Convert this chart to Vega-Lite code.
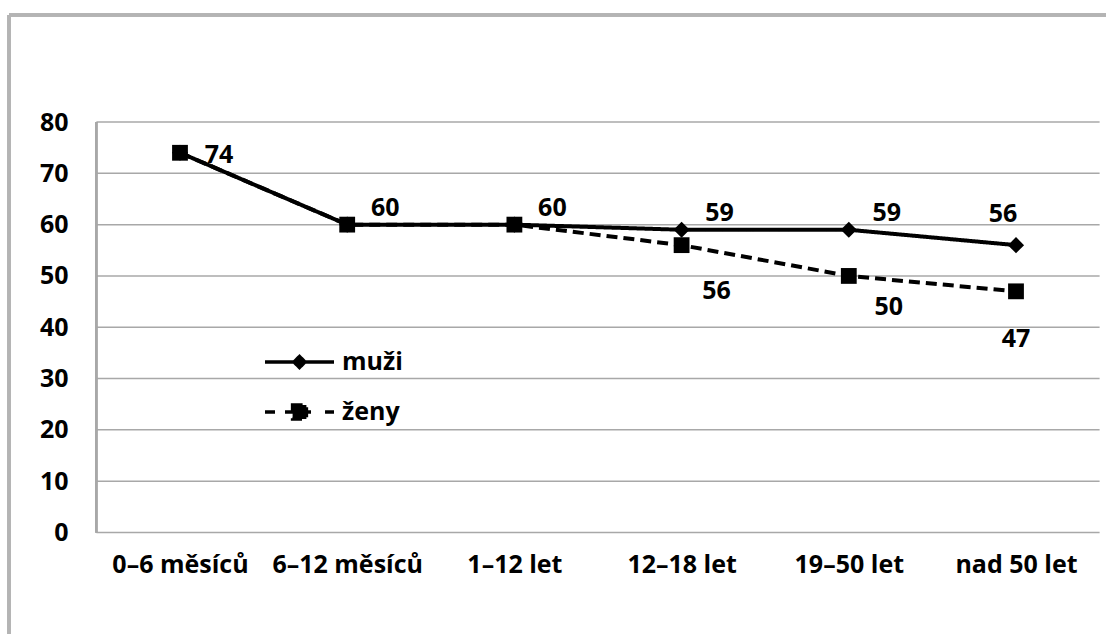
{
  "$schema": "https://vega.github.io/schema/vega-lite/v6.json",
  "width": 1097,
  "height": 619,
  "autosize": {"type": "none"},
  "padding": {"left": 9, "top": 15, "right": 0, "bottom": 0},
  "background": "white",
  "config": {"view": {"stroke": null}, "font": "Open Sans"},
  "datasets": {
    "values": [
      {"vek": "0–6 měsíců", "i": 0, "pohlavi": "muži", "hodnota": 74},
      {"vek": "6–12 měsíců", "i": 1, "pohlavi": "muži", "hodnota": 60},
      {"vek": "1–12 let", "i": 2, "pohlavi": "muži", "hodnota": 60},
      {"vek": "12–18 let", "i": 3, "pohlavi": "muži", "hodnota": 59},
      {"vek": "19–50 let", "i": 4, "pohlavi": "muži", "hodnota": 59},
      {"vek": "nad 50 let", "i": 5, "pohlavi": "muži", "hodnota": 56},
      {"vek": "0–6 měsíců", "i": 0, "pohlavi": "ženy", "hodnota": 74},
      {"vek": "6–12 měsíců", "i": 1, "pohlavi": "ženy", "hodnota": 60},
      {"vek": "1–12 let", "i": 2, "pohlavi": "ženy", "hodnota": 60},
      {"vek": "12–18 let", "i": 3, "pohlavi": "ženy", "hodnota": 56},
      {"vek": "19–50 let", "i": 4, "pohlavi": "ženy", "hodnota": 50},
      {"vek": "nad 50 let", "i": 5, "pohlavi": "ženy", "hodnota": 47}
    ],
    "grid": [{"v": 0}, {"v": 10}, {"v": 20}, {"v": 30}, {"v": 40}, {"v": 50}, {"v": 60}, {"v": 70}, {"v": 80}]
  },
  "data": {"name": "values"},
  "layer": [
    {
      "data": {"name": "grid"},
      "mark": {"type": "rule", "color": "#a8a8a8", "strokeWidth": 1.5},
      "encoding": {
        "y": {"field": "v", "type": "quantitative", "title": null},
        "x": {"datum": -0.5, "type": "quantitative", "title": null},
        "x2": {"datum": 5.5}
      }
    },
    {
      "mark": {"type": "rule", "color": "#a8a8a8", "strokeWidth": 1.5},
      "encoding": {
        "x": {"datum": -0.5, "type": "quantitative", "title": null},
        "y": {"datum": 0, "type": "quantitative", "title": null},
        "y2": {"datum": 80}
      }
    },
    {
      "mark": {"type": "rule", "color": "#b4b4b4", "strokeWidth": 2.5},
      "encoding": {
        "x": {"datum": -1.0227, "type": "quantitative", "title": null},
        "y": {"datum": -19.781, "type": "quantitative", "title": null},
        "y2": {"datum": 100.853}
      }
    },
    {
      "mark": {"type": "rule", "color": "#b4b4b4", "strokeWidth": 2.5},
      "encoding": {
        "y": {"datum": 100.853, "type": "quantitative", "title": null},
        "x": {"datum": -1.0227, "type": "quantitative", "title": null},
        "x2": {"datum": 5.5383}
      }
    },
    {
      "transform": [{"filter": "datum.pohlavi == 'ženy'"}],
      "mark": {"type": "line", "color": "black", "strokeWidth": 4, "strokeDash": [11, 6]},
      "encoding": {
        "x": {"field": "i", "type": "quantitative", "title": null},
        "y": {"field": "hodnota", "type": "quantitative", "title": null}
      }
    },
    {
      "transform": [{"filter": "datum.pohlavi == 'muži'"}],
      "mark": {"type": "line", "color": "black", "strokeWidth": 4},
      "encoding": {
        "x": {"field": "i", "type": "quantitative", "title": null},
        "y": {"field": "hodnota", "type": "quantitative", "title": null},
        "strokeDash": {"field": "pohlavi", "type": "nominal",
          "scale": {"domain": ["muži", "ženy"], "range": [[1, 0], [10, 6]]},
          "legend": {"orient": "none", "legendX": 254, "legendY": 310.5, "title": null, "padding": 0,
            "symbolSize": 4761, "symbolStrokeWidth": 3, "symbolStrokeColor": "black", "symbolFillColor": "black",
            "labelFont": "Open Sans", "labelFontSize": 25, "labelFontWeight": "bold", "labelColor": "black",
            "labelOffset": 6, "rowPadding": -21,
            "encode": {"symbols": {"update": {
              "shape": {"signal": "datum.value == 'muži' ? 'M-1,0L1,0M0,-0.16L0.16,0L0,0.16L-0.16,0Z' : 'M-1,0L-0.71,0M-0.42,0L0.45,0M0.74,0L1,0M-0.2,-0.2L0.2,-0.2L0.2,0.2L-0.2,0.2Z'"},
              "fill": {"value": "black"},
              "stroke": {"value": "black"},
              "strokeWidth": {"value": 3.5},
              "strokeDash": {"value": []},
              "opacity": {"value": 1}
            }}}}}
      }
    },
    {
      "transform": [{"filter": "datum.pohlavi == 'muži'"}],
      "mark": {"type": "point", "shape": "diamond", "filled": true, "color": "black", "opacity": 1, "size": 260},
      "encoding": {
        "x": {"field": "i", "type": "quantitative", "title": null},
        "y": {"field": "hodnota", "type": "quantitative", "title": null}
      }
    },
    {
      "transform": [{"filter": "datum.pohlavi == 'ženy'"}],
      "mark": {"type": "point", "shape": "square", "filled": true, "color": "black", "opacity": 1, "size": 250},
      "encoding": {
        "x": {"field": "i", "type": "quantitative", "title": null,
          "scale": {"domain": [-1.0227, 5.5383], "nice": false, "zero": false},
          "axis": {"orient": "bottom", "offset": -101.5, "title": null, "values": [0, 1, 2, 3, 4, 5],
            "labelExpr": "['0–6 měsíců','6–12 měsíců','1–12 let','12–18 let','19–50 let','nad 50 let'][datum.value]",
            "domain": false, "ticks": false, "tickSize": 0, "grid": false, "labelPadding": 39.5, "labelBaseline": "alphabetic",
            "labelFont": "Open Sans", "labelFontSize": 25, "labelFontWeight": "bold", "labelColor": "black",
            "labelOverlap": false, "labelBound": false, "labelFlush": false}},
        "y": {"field": "hodnota", "type": "quantitative", "title": null,
          "scale": {"domain": [-19.781, 100.853], "nice": false, "zero": false},
          "axis": {"orient": "left", "offset": -87, "title": null, "values": [0, 10, 20, 30, 40, 50, 60, 70, 80],
            "domain": false, "ticks": false, "tickSize": 0, "grid": false, "labelPadding": 28,
            "labelFont": "Open Sans", "labelFontSize": 25, "labelFontWeight": "bold", "labelColor": "black",
            "labelOverlap": false, "labelBound": false, "labelFlush": false}}
      }
    },
    {
      "transform": [{"filter": "datum.pohlavi == 'muži' && datum.i == 0"}],
      "mark": {"type": "text", "font": "Open Sans", "fontSize": 25, "fontWeight": "bold", "color": "black", "align": "center", "baseline": "middle", "dx": 39, "dy": 2},
      "encoding": {
        "x": {"field": "i", "type": "quantitative", "title": null},
        "y": {"field": "hodnota", "type": "quantitative", "title": null},
        "text": {"field": "hodnota", "type": "quantitative"}
      }
    },
    {
      "transform": [{"filter": "datum.pohlavi == 'muži' && datum.i >= 1 && datum.i <= 4"}],
      "mark": {"type": "text", "font": "Open Sans", "fontSize": 25, "fontWeight": "bold", "color": "black", "align": "center", "baseline": "middle", "dx": 38, "dy": -17},
      "encoding": {
        "x": {"field": "i", "type": "quantitative", "title": null},
        "y": {"field": "hodnota", "type": "quantitative", "title": null},
        "text": {"field": "hodnota", "type": "quantitative"}
      }
    },
    {
      "transform": [{"filter": "datum.pohlavi == 'muži' && datum.i == 5"}],
      "mark": {"type": "text", "font": "Open Sans", "fontSize": 25, "fontWeight": "bold", "color": "black", "align": "center", "baseline": "middle", "dx": -13, "dy": -31},
      "encoding": {
        "x": {"field": "i", "type": "quantitative", "title": null},
        "y": {"field": "hodnota", "type": "quantitative", "title": null},
        "text": {"field": "hodnota", "type": "quantitative"}
      }
    },
    {
      "transform": [{"filter": "datum.pohlavi == 'ženy' && datum.i == 3"}],
      "mark": {"type": "text", "font": "Open Sans", "fontSize": 25, "fontWeight": "bold", "color": "black", "align": "center", "baseline": "middle", "dx": 35, "dy": 46},
      "encoding": {
        "x": {"field": "i", "type": "quantitative", "title": null},
        "y": {"field": "hodnota", "type": "quantitative", "title": null},
        "text": {"field": "hodnota", "type": "quantitative"}
      }
    },
    {
      "transform": [{"filter": "datum.pohlavi == 'ženy' && datum.i == 4"}],
      "mark": {"type": "text", "font": "Open Sans", "fontSize": 25, "fontWeight": "bold", "color": "black", "align": "center", "baseline": "middle", "dx": 40, "dy": 31},
      "encoding": {
        "x": {"field": "i", "type": "quantitative", "title": null},
        "y": {"field": "hodnota", "type": "quantitative", "title": null},
        "text": {"field": "hodnota", "type": "quantitative"}
      }
    },
    {
      "transform": [{"filter": "datum.pohlavi == 'ženy' && datum.i == 5"}],
      "mark": {"type": "text", "font": "Open Sans", "fontSize": 25, "fontWeight": "bold", "color": "black", "align": "center", "baseline": "middle", "dx": 0, "dy": 48},
      "encoding": {
        "x": {"field": "i", "type": "quantitative", "title": null},
        "y": {"field": "hodnota", "type": "quantitative", "title": null},
        "text": {"field": "hodnota", "type": "quantitative"}
      }
    }
  ]
}
